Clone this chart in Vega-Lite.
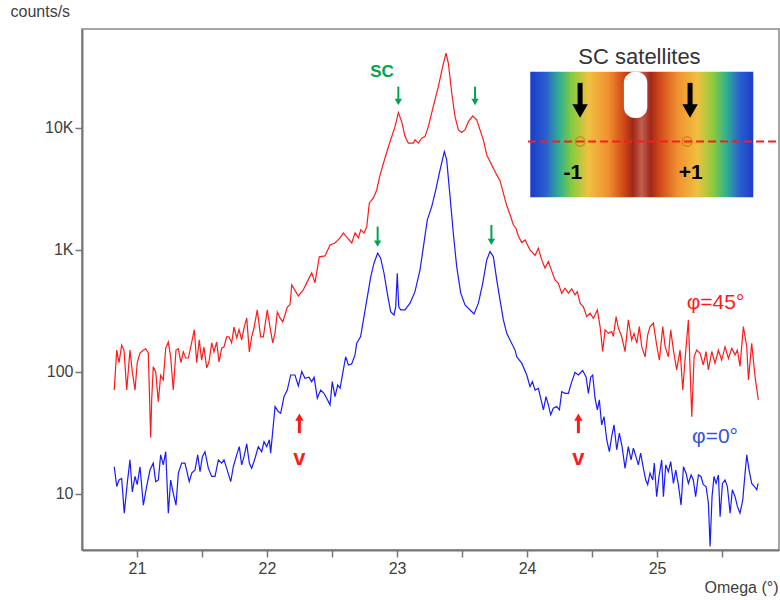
{
  "$schema": "https://vega.github.io/schema/vega-lite/v6.json",
  "autosize": "none",
  "width": 697,
  "height": 521,
  "padding": {"left": 82, "top": 29, "right": 1, "bottom": 50},
  "background": "white",
  "config": {
    "view": {"stroke": "#888888", "strokeWidth": 1.5},
    "font": "Liberation Sans",
    "axis": {"grid": false, "domainColor": "#777777", "domainWidth": 2, "tickColor": "#777777", "tickWidth": 1.5, "labelColor": "#404040", "labelFont": "Liberation Sans", "labelFontSize": 16, "titleFont": "Liberation Sans", "titleFontWeight": "normal", "titleColor": "#404040", "titleFontSize": 16}
  },
  "datasets": {
    "spectra": [
      {"s":"45","x":20.825,"y":71},{"s":"45","x":20.844,"y":151},{"s":"45","x":20.862,"y":119},{"s":"45","x":20.882,"y":166},{"s":"45","x":20.9,"y":151},{"s":"45","x":20.921,"y":71},{"s":"45","x":20.946,"y":151},{"s":"45","x":20.964,"y":100},{"s":"45","x":20.985,"y":71},{"s":"45","x":21.002,"y":119},{"s":"45","x":21.023,"y":143},{"s":"45","x":21.045,"y":150},{"s":"45","x":21.067,"y":155},{"s":"45","x":21.087,"y":143},{"s":"45","x":21.105,"y":29},{"s":"45","x":21.113,"y":59},{"s":"45","x":21.125,"y":110},{"s":"45","x":21.144,"y":100},{"s":"45","x":21.164,"y":57},{"s":"45","x":21.182,"y":94},{"s":"45","x":21.202,"y":86},{"s":"45","x":21.221,"y":157},{"s":"45","x":21.241,"y":176},{"s":"45","x":21.259,"y":132},{"s":"45","x":21.279,"y":71},{"s":"45","x":21.3,"y":151},{"s":"45","x":21.318,"y":155},{"s":"45","x":21.338,"y":119},{"s":"45","x":21.356,"y":146},{"s":"45","x":21.375,"y":130},{"s":"45","x":21.395,"y":130},{"s":"45","x":21.413,"y":160},{"s":"45","x":21.441,"y":222},{"s":"45","x":21.459,"y":119},{"s":"45","x":21.479,"y":183},{"s":"45","x":21.497,"y":125},{"s":"45","x":21.515,"y":160},{"s":"45","x":21.536,"y":108},{"s":"45","x":21.554,"y":121},{"s":"45","x":21.575,"y":173},{"s":"45","x":21.592,"y":146},{"s":"45","x":21.613,"y":176},{"s":"45","x":21.631,"y":121},{"s":"45","x":21.652,"y":157},{"s":"45","x":21.669,"y":160},{"s":"45","x":21.69,"y":194},{"s":"45","x":21.708,"y":194},{"s":"45","x":21.728,"y":173},{"s":"45","x":21.746,"y":233},{"s":"45","x":21.767,"y":190},{"s":"45","x":21.785,"y":222},{"s":"45","x":21.805,"y":183},{"s":"45","x":21.823,"y":229},{"s":"45","x":21.844,"y":277},{"s":"45","x":21.864,"y":146},{"s":"45","x":21.882,"y":194},{"s":"45","x":21.9,"y":229},{"s":"45","x":21.925,"y":323},{"s":"45","x":21.951,"y":194},{"s":"45","x":21.972,"y":194},{"s":"45","x":22.002,"y":323},{"s":"45","x":22.023,"y":233},{"s":"45","x":22.044,"y":173},{"s":"45","x":22.062,"y":209},{"s":"45","x":22.079,"y":310},{"s":"45","x":22.1,"y":277},{"s":"45","x":22.121,"y":257},{"s":"45","x":22.138,"y":293},{"s":"45","x":22.156,"y":340},{"s":"45","x":22.177,"y":355},{"s":"45","x":22.19,"y":516},{"s":"45","x":22.241,"y":420},{"s":"45","x":22.279,"y":470},{"s":"45","x":22.305,"y":537},{"s":"45","x":22.344,"y":648},{"s":"45","x":22.369,"y":537},{"s":"45","x":22.402,"y":877},{"s":"45","x":22.446,"y":893},{"s":"45","x":22.485,"y":1099},{"s":"45","x":22.523,"y":1141},{"s":"45","x":22.562,"y":1254},{"s":"45","x":22.587,"y":1378},{"s":"45","x":22.613,"y":1274},{"s":"45","x":22.652,"y":1141},{"s":"45","x":22.677,"y":1378},{"s":"45","x":22.703,"y":1254},{"s":"45","x":22.721,"y":1459},{"s":"45","x":22.746,"y":1378},{"s":"45","x":22.767,"y":1546},{"s":"45","x":22.787,"y":2428},{"s":"45","x":22.818,"y":2667},{"s":"45","x":22.844,"y":3100},{"s":"45","x":22.869,"y":4100},{"s":"45","x":22.908,"y":5700},{"s":"45","x":22.946,"y":7700},{"s":"45","x":22.985,"y":10260},{"s":"45","x":23.01,"y":13360},{"s":"45","x":23.036,"y":11270},{"s":"45","x":23.062,"y":8490},{"s":"45","x":23.087,"y":7500},{"s":"45","x":23.126,"y":7500},{"s":"45","x":23.138,"y":7980},{"s":"45","x":23.164,"y":7500},{"s":"45","x":23.19,"y":8230},{"s":"45","x":23.215,"y":8490},{"s":"45","x":23.241,"y":10260},{"s":"45","x":23.279,"y":14990},{"s":"45","x":23.318,"y":21840},{"s":"45","x":23.351,"y":31850},{"s":"45","x":23.377,"y":40930},{"s":"45","x":23.395,"y":33900},{"s":"45","x":23.421,"y":19230},{"s":"45","x":23.446,"y":12380},{"s":"45","x":23.472,"y":9640},{"s":"45","x":23.497,"y":9160},{"s":"45","x":23.523,"y":9640},{"s":"45","x":23.549,"y":11270},{"s":"45","x":23.582,"y":12530},{"s":"45","x":23.613,"y":11650},{"s":"45","x":23.638,"y":9640},{"s":"45","x":23.664,"y":7980},{"s":"45","x":23.69,"y":6010},{"s":"45","x":23.728,"y":4980},{"s":"45","x":23.767,"y":4120},{"s":"45","x":23.792,"y":3700},{"s":"45","x":23.818,"y":2917},{"s":"45","x":23.844,"y":2300},{"s":"45","x":23.869,"y":1950},{"s":"45","x":23.895,"y":1600},{"s":"45","x":23.915,"y":1506},{"s":"45","x":23.933,"y":1300},{"s":"45","x":23.959,"y":1150},{"s":"45","x":23.985,"y":1208},{"s":"45","x":24.023,"y":1000},{"s":"45","x":24.062,"y":900},{"s":"45","x":24.087,"y":1033},{"s":"45","x":24.113,"y":828},{"s":"45","x":24.138,"y":710},{"s":"45","x":24.164,"y":802},{"s":"45","x":24.19,"y":670},{"s":"45","x":24.215,"y":568},{"s":"45","x":24.241,"y":533},{"s":"45","x":24.267,"y":440},{"s":"45","x":24.292,"y":485},{"s":"45","x":24.318,"y":442},{"s":"45","x":24.344,"y":480},{"s":"45","x":24.369,"y":428},{"s":"45","x":24.387,"y":455},{"s":"45","x":24.408,"y":366},{"s":"45","x":24.433,"y":343},{"s":"45","x":24.459,"y":284},{"s":"45","x":24.485,"y":303},{"s":"45","x":24.51,"y":275},{"s":"45","x":24.541,"y":322},{"s":"45","x":24.562,"y":235},{"s":"45","x":24.582,"y":147},{"s":"45","x":24.6,"y":221},{"s":"45","x":24.626,"y":207},{"s":"45","x":24.651,"y":214},{"s":"45","x":24.664,"y":195},{"s":"45","x":24.685,"y":284},{"s":"45","x":24.703,"y":228},{"s":"45","x":24.728,"y":195},{"s":"45","x":24.754,"y":147},{"s":"45","x":24.779,"y":267},{"s":"45","x":24.805,"y":183},{"s":"45","x":24.823,"y":207},{"s":"45","x":24.844,"y":172},{"s":"45","x":24.864,"y":235},{"s":"45","x":24.882,"y":161},{"s":"45","x":24.908,"y":133},{"s":"45","x":24.928,"y":201},{"s":"45","x":24.946,"y":235},{"s":"45","x":24.972,"y":251},{"s":"45","x":24.997,"y":166},{"s":"45","x":25.018,"y":125},{"s":"45","x":25.044,"y":235},{"s":"45","x":25.062,"y":161},{"s":"45","x":25.087,"y":133},{"s":"45","x":25.105,"y":221},{"s":"45","x":25.126,"y":151},{"s":"45","x":25.151,"y":104},{"s":"45","x":25.177,"y":151},{"s":"45","x":25.198,"y":71},{"s":"45","x":25.215,"y":125},{"s":"45","x":25.241,"y":267},{"s":"45","x":25.267,"y":43},{"s":"45","x":25.285,"y":133},{"s":"45","x":25.305,"y":151},{"s":"45","x":25.331,"y":142},{"s":"45","x":25.356,"y":114},{"s":"45","x":25.377,"y":147},{"s":"45","x":25.395,"y":104},{"s":"45","x":25.421,"y":147},{"s":"45","x":25.446,"y":118},{"s":"45","x":25.472,"y":151},{"s":"45","x":25.497,"y":125},{"s":"45","x":25.523,"y":161},{"s":"45","x":25.549,"y":129},{"s":"45","x":25.575,"y":156},{"s":"45","x":25.6,"y":138},{"s":"45","x":25.618,"y":151},{"s":"45","x":25.638,"y":111},{"s":"45","x":25.664,"y":235},{"s":"45","x":25.69,"y":161},{"s":"45","x":25.703,"y":86},{"s":"45","x":25.728,"y":172},{"s":"45","x":25.754,"y":91},{"s":"45","x":25.779,"y":59},
      {"s":"0","x":20.825,"y":16.7},{"s":"0","x":20.844,"y":11.5},{"s":"0","x":20.862,"y":13},{"s":"0","x":20.882,"y":13.4},{"s":"0","x":20.902,"y":6.95},{"s":"0","x":20.925,"y":12.2},{"s":"0","x":20.946,"y":19},{"s":"0","x":20.964,"y":10.4},{"s":"0","x":20.985,"y":13.9},{"s":"0","x":21.002,"y":11.9},{"s":"0","x":21.023,"y":16.7},{"s":"0","x":21.049,"y":8.1},{"s":"0","x":21.074,"y":11.5},{"s":"0","x":21.1,"y":15.7},{"s":"0","x":21.125,"y":17.9},{"s":"0","x":21.144,"y":12.6},{"s":"0","x":21.164,"y":13},{"s":"0","x":21.182,"y":20.9},{"s":"0","x":21.202,"y":17.3},{"s":"0","x":21.221,"y":22.2},{"s":"0","x":21.241,"y":6.95},{"s":"0","x":21.259,"y":13},{"s":"0","x":21.279,"y":10.1},{"s":"0","x":21.3,"y":8.1},{"s":"0","x":21.318,"y":14.8},{"s":"0","x":21.344,"y":17.9},{"s":"0","x":21.369,"y":17.9},{"s":"0","x":21.402,"y":12.6},{"s":"0","x":21.421,"y":14.8},{"s":"0","x":21.446,"y":15.7},{"s":"0","x":21.467,"y":20.9},{"s":"0","x":21.485,"y":15.2},{"s":"0","x":21.503,"y":20.2},{"s":"0","x":21.523,"y":22.2},{"s":"0","x":21.549,"y":16.2},{"s":"0","x":21.575,"y":13.9},{"s":"0","x":21.6,"y":13.9},{"s":"0","x":21.626,"y":19},{"s":"0","x":21.651,"y":17.9},{"s":"0","x":21.669,"y":19},{"s":"0","x":21.69,"y":16.2},{"s":"0","x":21.721,"y":12.6},{"s":"0","x":21.741,"y":16.7},{"s":"0","x":21.767,"y":20.9},{"s":"0","x":21.787,"y":24.4},{"s":"0","x":21.805,"y":17.3},{"s":"0","x":21.823,"y":20.2},{"s":"0","x":21.844,"y":25.7},{"s":"0","x":21.864,"y":17.9},{"s":"0","x":21.882,"y":16.2},{"s":"0","x":21.908,"y":19.6},{"s":"0","x":21.933,"y":24.4},{"s":"0","x":21.959,"y":22.2},{"s":"0","x":21.977,"y":26.8},{"s":"0","x":21.998,"y":24.4},{"s":"0","x":22.018,"y":27.8},{"s":"0","x":22.028,"y":21.6},{"s":"0","x":22.062,"y":52},{"s":"0","x":22.087,"y":47.3},{"s":"0","x":22.105,"y":45.8},{"s":"0","x":22.131,"y":62.8},{"s":"0","x":22.156,"y":71},{"s":"0","x":22.182,"y":94.4},{"s":"0","x":22.215,"y":94.4},{"s":"0","x":22.241,"y":76.7},{"s":"0","x":22.267,"y":100.6},{"s":"0","x":22.292,"y":88.7},{"s":"0","x":22.323,"y":90.6},{"s":"0","x":22.344,"y":83.2},{"s":"0","x":22.362,"y":90.6},{"s":"0","x":22.387,"y":60.9},{"s":"0","x":22.413,"y":71},{"s":"0","x":22.438,"y":66.8},{"s":"0","x":22.459,"y":60.9},{"s":"0","x":22.485,"y":53.7},{"s":"0","x":22.502,"y":83.2},{"s":"0","x":22.523,"y":62.8},{"s":"0","x":22.544,"y":78.2},{"s":"0","x":22.562,"y":73.4},{"s":"0","x":22.587,"y":104},{"s":"0","x":22.605,"y":133},{"s":"0","x":22.626,"y":114},{"s":"0","x":22.651,"y":116},{"s":"0","x":22.677,"y":138},{"s":"0","x":22.69,"y":172},{"s":"0","x":22.72,"y":195},{"s":"0","x":22.746,"y":284},{"s":"0","x":22.772,"y":414},{"s":"0","x":22.798,"y":604},{"s":"0","x":22.823,"y":778},{"s":"0","x":22.851,"y":940},{"s":"0","x":22.874,"y":855},{"s":"0","x":22.9,"y":644},{"s":"0","x":22.925,"y":442},{"s":"0","x":22.951,"y":312},{"s":"0","x":22.977,"y":293},{"s":"0","x":22.99,"y":343},{"s":"0","x":23.002,"y":644},{"s":"0","x":23.013,"y":343},{"s":"0","x":23.028,"y":322},{"s":"0","x":23.062,"y":322},{"s":"0","x":23.1,"y":366},{"s":"0","x":23.138,"y":455},{"s":"0","x":23.177,"y":685},{"s":"0","x":23.203,"y":1064},{"s":"0","x":23.233,"y":1762},{"s":"0","x":23.267,"y":2265},{"s":"0","x":23.298,"y":3105},{"s":"0","x":23.331,"y":4529},{"s":"0","x":23.364,"y":6394},{"s":"0","x":23.382,"y":5470},{"s":"0","x":23.408,"y":2735},{"s":"0","x":23.433,"y":1371},{"s":"0","x":23.459,"y":729},{"s":"0","x":23.49,"y":442},{"s":"0","x":23.523,"y":354},{"s":"0","x":23.562,"y":322},{"s":"0","x":23.592,"y":299},{"s":"0","x":23.626,"y":366},{"s":"0","x":23.659,"y":533},{"s":"0","x":23.69,"y":828},{"s":"0","x":23.715,"y":968},{"s":"0","x":23.741,"y":881},{"s":"0","x":23.767,"y":568},{"s":"0","x":23.792,"y":389},{"s":"0","x":23.818,"y":267},{"s":"0","x":23.844,"y":207},{"s":"0","x":23.869,"y":183},{"s":"0","x":23.908,"y":151},{"s":"0","x":23.921,"y":133},{"s":"0","x":23.941,"y":125},{"s":"0","x":23.959,"y":118},{"s":"0","x":23.998,"y":94.4},{"s":"0","x":24.023,"y":75.8},{"s":"0","x":24.041,"y":83.2},{"s":"0","x":24.062,"y":71},{"s":"0","x":24.087,"y":73.4},{"s":"0","x":24.105,"y":60.9},{"s":"0","x":24.126,"y":48.9},{"s":"0","x":24.146,"y":62.8},{"s":"0","x":24.164,"y":53.7},{"s":"0","x":24.182,"y":44.5},{"s":"0","x":24.202,"y":50.4},{"s":"0","x":24.228,"y":52},{"s":"0","x":24.249,"y":48.9},{"s":"0","x":24.267,"y":69},{"s":"0","x":24.292,"y":66.8},{"s":"0","x":24.318,"y":66.8},{"s":"0","x":24.344,"y":83.2},{"s":"0","x":24.369,"y":98.8},{"s":"0","x":24.395,"y":94.4},{"s":"0","x":24.428,"y":102.6},{"s":"0","x":24.454,"y":91},{"s":"0","x":24.472,"y":66.8},{"s":"0","x":24.49,"y":91},{"s":"0","x":24.505,"y":94.4},{"s":"0","x":24.523,"y":60.9},{"s":"0","x":24.541,"y":48.9},{"s":"0","x":24.556,"y":59},{"s":"0","x":24.574,"y":36.8},{"s":"0","x":24.592,"y":43},{"s":"0","x":24.613,"y":27.8},{"s":"0","x":24.633,"y":22.2},{"s":"0","x":24.651,"y":29.5},{"s":"0","x":24.669,"y":36.8},{"s":"0","x":24.69,"y":23},{"s":"0","x":24.71,"y":31.5},{"s":"0","x":24.731,"y":24.4},{"s":"0","x":24.754,"y":16.2},{"s":"0","x":24.779,"y":24.4},{"s":"0","x":24.8,"y":19},{"s":"0","x":24.818,"y":23.7},{"s":"0","x":24.838,"y":20.2},{"s":"0","x":24.856,"y":17.3},{"s":"0","x":24.874,"y":21.6},{"s":"0","x":24.895,"y":16.2},{"s":"0","x":24.913,"y":13},{"s":"0","x":24.928,"y":11.9},{"s":"0","x":24.946,"y":14.8},{"s":"0","x":24.967,"y":13},{"s":"0","x":24.979,"y":17.9},{"s":"0","x":24.997,"y":9.5},{"s":"0","x":25.015,"y":13.9},{"s":"0","x":25.036,"y":19},{"s":"0","x":25.049,"y":9.5},{"s":"0","x":25.067,"y":17.3},{"s":"0","x":25.087,"y":15.2},{"s":"0","x":25.105,"y":18.4},{"s":"0","x":25.126,"y":12.2},{"s":"0","x":25.144,"y":15.7},{"s":"0","x":25.164,"y":11.9},{"s":"0","x":25.185,"y":8.1},{"s":"0","x":25.203,"y":16.7},{"s":"0","x":25.223,"y":14.8},{"s":"0","x":25.241,"y":12.2},{"s":"0","x":25.262,"y":14.3},{"s":"0","x":25.279,"y":13},{"s":"0","x":25.297,"y":9.5},{"s":"0","x":25.318,"y":14.3},{"s":"0","x":25.338,"y":13.9},{"s":"0","x":25.356,"y":11.9},{"s":"0","x":25.377,"y":11.5},{"s":"0","x":25.395,"y":8.4},{"s":"0","x":25.408,"y":3.7},{"s":"0","x":25.423,"y":9.5},{"s":"0","x":25.438,"y":13.9},{"s":"0","x":25.454,"y":12.2},{"s":"0","x":25.472,"y":14.3},{"s":"0","x":25.485,"y":6.5},{"s":"0","x":25.503,"y":12.2},{"s":"0","x":25.523,"y":13},{"s":"0","x":25.541,"y":11.5},{"s":"0","x":25.562,"y":6.95},{"s":"0","x":25.579,"y":10.8},{"s":"0","x":25.6,"y":9.5},{"s":"0","x":25.618,"y":7.9},{"s":"0","x":25.638,"y":6.95},{"s":"0","x":25.659,"y":8.9},{"s":"0","x":25.677,"y":14.8},{"s":"0","x":25.69,"y":20.9},{"s":"0","x":25.708,"y":15.7},{"s":"0","x":25.728,"y":12.2},{"s":"0","x":25.749,"y":11.5},{"s":"0","x":25.767,"y":10.8},{"s":"0","x":25.777,"y":12.2}
    ],
    "greenShafts": [
      {"x":23.01,"y":21800,"y2":17000},{"x":23.6,"y":21800,"y2":17000},
      {"x":22.851,"y":1553,"y2":1186},{"x":23.726,"y":1603,"y2":1220}
    ],
    "greenHeads": [
      {"x":23.01,"y":16330},{"x":23.6,"y":16330},{"x":22.851,"y":1127},{"x":23.726,"y":1164}
    ],
    "redShafts": [
      {"x":22.249,"y":42,"y2":31.5},{"x":24.395,"y":42,"y2":31.5}
    ],
    "redHeads": [
      {"x":22.249,"y":42.7},{"x":24.395,"y":42.7}
    ],
    "vLabels": [
      {"x":22.249,"y":19.7,"t":"v"},{"x":24.395,"y":19.7,"t":"v"}
    ],
    "inset": [
      {"x":24.025,"x2":25.74,"y":28900,"y2":2705}
    ],
    "keyhole": [
      {"x":24.745,"x2":24.925,"y":28900,"y2":12080}
    ],
    "dashLine": [
      {"x":24.008,"x2":25.93,"y":7730}
    ],
    "satCircles": [
      {"x":24.408,"y":7730},{"x":25.231,"y":7730}
    ],
    "blackShafts": [
      {"x":24.408,"y":23400,"y2":15140},{"x":25.254,"y":23400,"y2":15140}
    ],
    "blackHeads": [
      {"x":24.408,"y":13770},{"x":25.254,"y":13770}
    ],
    "orderLabels": [
      {"x":24.352,"y":4275,"t":"-1"},{"x":25.259,"y":4275,"t":"+1"}
    ]
  },
  "encoding": {
    "x": {"field": "x", "type": "quantitative",
      "scale": {"domain": [20.577, 25.938], "nice": false, "zero": false},
      "axis": {"values": [21, 21.5, 22, 22.5, 23, 23.5, 24, 24.5, 25, 25.5],
        "labelExpr": "datum.value % 1 == 0 ? datum.value : ''",
        "tickSize": 7, "labelPadding": 3, "labelFlush": false,
        "title": "Omega (°)", "titleX": 696, "titleY": 37, "titleAlign": "right", "titleBaseline": "middle"}},
    "y": {"field": "y", "type": "quantitative",
      "scale": {"type": "log", "domain": [3.47, 64700], "nice": false},
      "axis": {"values": [10, 100, 1000, 10000],
        "labelExpr": "datum.value >= 1000 ? (datum.value / 1000) + 'K' : datum.value",
        "tickSize": 7, "labelPadding": 2, "labelFlush": false,
        "title": "counts/s", "titleAngle": 0, "titleX": -72, "titleY": -18, "titleAlign": "left", "titleBaseline": "middle"}}
  },
  "layer": [
    {"data": {"name": "inset"}, "mark": {"type": "rect", "fill": {"gradient": "linear", "x1": 0, "y1": 0, "x2": 1, "y2": 0, "stops": [
        {"offset": 0, "color": "#1a3cc8"}, {"offset": 0.07, "color": "#2a5fd0"}, {"offset": 0.13, "color": "#2fb090"},
        {"offset": 0.19, "color": "#8ccc3c"}, {"offset": 0.26, "color": "#f0c040"}, {"offset": 0.35, "color": "#f09030"},
        {"offset": 0.42, "color": "#d04818"}, {"offset": 0.46, "color": "#a02818"}, {"offset": 0.5, "color": "#c06050"},
        {"offset": 0.54, "color": "#a02818"}, {"offset": 0.58, "color": "#d04818"}, {"offset": 0.66, "color": "#f09030"},
        {"offset": 0.75, "color": "#f0c040"}, {"offset": 0.82, "color": "#8ccc3c"}, {"offset": 0.88, "color": "#2fb090"},
        {"offset": 0.94, "color": "#2a5fd0"}, {"offset": 1, "color": "#1a3cc8"}]}},
      "encoding": {"x2": {"field": "x2"}, "y2": {"field": "y2"}}},
    {"data": {"name": "keyhole"}, "mark": {"type": "rect", "fill": "white", "cornerRadius": 11},
      "encoding": {"x2": {"field": "x2"}, "y2": {"field": "y2"}}},
    {"data": {"name": "satCircles"}, "mark": {"type": "point", "shape": "circle", "filled": false, "stroke": "#e07010", "strokeWidth": 1.5, "size": 90}},
    {"data": {"name": "dashLine"}, "mark": {"type": "rule", "stroke": "#ff1a1a", "strokeWidth": 2, "strokeDash": [8, 4]},
      "encoding": {"x2": {"field": "x2"}}},
    {"data": {"name": "blackShafts"}, "mark": {"type": "rule", "stroke": "black", "strokeWidth": 5},
      "encoding": {"y2": {"field": "y2"}}},
    {"data": {"name": "blackHeads"}, "mark": {"type": "point", "shape": "triangle-down", "filled": true, "fill": "black", "stroke": null, "size": 240, "opacity": 1}},
    {"data": {"name": "orderLabels"}, "mark": {"type": "text", "font": "Liberation Sans", "fontWeight": "bold", "fontSize": 21, "fill": "black", "align": "center", "baseline": "middle"},
      "encoding": {"text": {"field": "t"}}},
    {"data": {"values": [{"x": 24.865, "y": 38200, "t": "SC satellites"}]}, "mark": {"type": "text", "font": "Liberation Sans", "fontSize": 22, "fill": "#333333", "align": "center", "baseline": "middle"},
      "encoding": {"text": {"field": "t"}}},
    {"data": {"name": "spectra"}, "mark": {"type": "line", "strokeWidth": 1.2, "interpolate": "linear"},
      "encoding": {"color": {"field": "s", "type": "nominal", "scale": {"domain": ["45", "0"], "range": ["#ff1a1a", "#1a1aff"]}, "legend": null}}},
    {"data": {"name": "greenShafts"}, "mark": {"type": "rule", "stroke": "#00a550", "strokeWidth": 2},
      "encoding": {"y2": {"field": "y2"}}},
    {"data": {"name": "greenHeads"}, "mark": {"type": "point", "shape": "triangle-down", "filled": true, "fill": "#00a550", "stroke": null, "size": 55, "opacity": 1}},
    {"data": {"name": "redShafts"}, "mark": {"type": "rule", "stroke": "#ff1a1a", "strokeWidth": 3},
      "encoding": {"y2": {"field": "y2"}}},
    {"data": {"name": "redHeads"}, "mark": {"type": "point", "shape": "triangle-up", "filled": true, "fill": "#ff1a1a", "stroke": null, "size": 70, "opacity": 1}},
    {"data": {"name": "vLabels"}, "mark": {"type": "text", "font": "Liberation Sans", "fontWeight": "bold", "fontSize": 22, "fill": "#ff1a1a", "align": "center", "baseline": "middle"},
      "encoding": {"text": {"field": "t"}}},
    {"data": {"values": [{"x": 22.885, "y": 28900, "t": "SC"}]}, "mark": {"type": "text", "font": "Liberation Sans", "fontWeight": "bold", "fontSize": 17, "fill": "#00a550", "align": "center", "baseline": "middle"},
      "encoding": {"text": {"field": "t"}}},
    {"data": {"values": [{"x": 25.45, "y": 368, "t": "φ=45°"}]}, "mark": {"type": "text", "font": "Liberation Sans", "fontSize": 21, "fill": "#ff1a1a", "align": "center", "baseline": "middle"},
      "encoding": {"text": {"field": "t"}}},
    {"data": {"values": [{"x": 25.446, "y": 29.2, "t": "φ=0°"}]}, "mark": {"type": "text", "font": "Liberation Sans", "fontSize": 21, "fill": "#3355dd", "align": "center", "baseline": "middle"},
      "encoding": {"text": {"field": "t"}}}
  ]
}
